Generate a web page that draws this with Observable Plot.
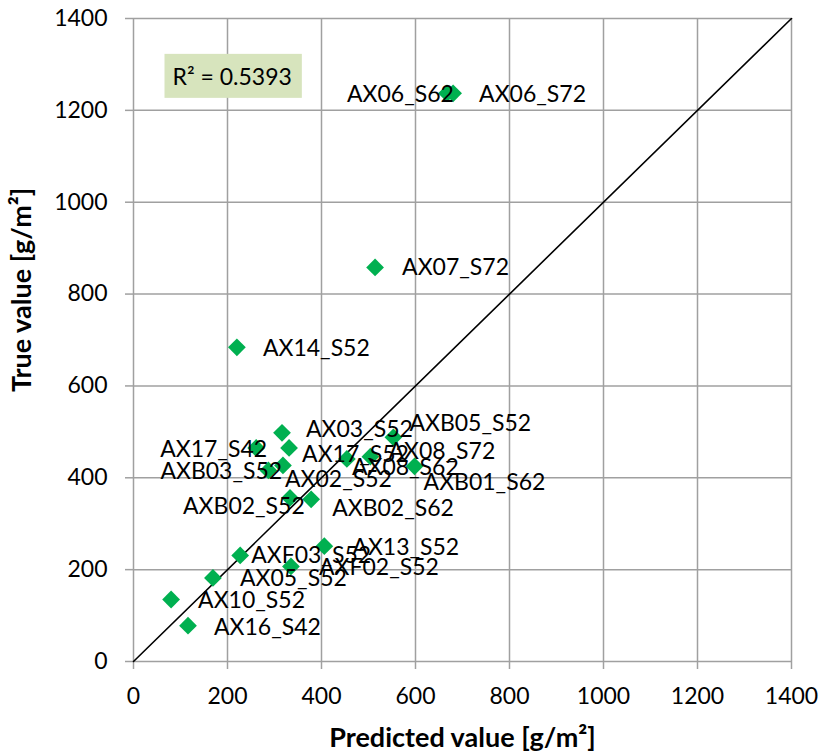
<!DOCTYPE html>
<html><head><meta charset="utf-8">
<script src="https://cdn.jsdelivr.net/npm/d3@7"></script>
<script src="https://cdn.jsdelivr.net/npm/@observablehq/plot@0.6"></script>
<style>body{margin:0;background:#fff;} svg{display:block;}</style>
</head><body><div id="chart"></div>
<script>
// ---- data ----
const labels = ["AX06_S62","AX06_S72","AX07_S72","AX14_S52","AX03_S52","AX17_S52","AX17_S42","AX02_S52","AXB03_S52","AXB02_S52","AXB02_S62","AX08_S62","AX08_S72","AXB05_S52","AXB01_S62","AX13_S52","AXF03_S52","AXF02_S52","AX05_S52","AX10_S52","AX16_S42"];
const predicted = [667, 680, 514, 220, 316, 331, 261, 318, 287, 333, 378, 454, 504, 553, 598, 406, 227, 335, 169, 80, 116];
const trueValues = [1237, 1237, 858, 684, 498, 465, 465, 427, 416, 356, 353, 441, 446, 488, 425, 251, 231, 207, 182, 135, 78];
const axisTicks = [0, 200, 400, 600, 800, 1000, 1200, 1400];
const r2Text = "R² = 0.5393";
const xTitle = "Predicted value [g/m²]";
const yTitle = "True value [g/m²]";

// ---- layout (label placement, px offsets from each point) ----
const labelOffsets = [[-100,1],[26,1],[27,0],[26,1],[24,-3],[13,7],[-96,2],[2,14],[-108,1],[-107,9],[21,9],[5,9],[18,-5],[16,-14],[9,16],[28,1],[11,0],[28,1],[27,1],[27,1],[26,2]];

const rows = labels.map((name, i) => ({name, predicted: predicted[i], actual: trueValues[i]}));
const domain = [axisTicks[0], axisTicks[axisTicks.length - 1]];
const gridColor = "#a0a0a0";
const font = "Lato, 'Open Sans', sans-serif";
const fmt = d3.format("d");

const chart = Plot.plot({
  width: 819, height: 753,
  marginLeft: 133, marginRight: 28, marginTop: 18, marginBottom: 92,
  style: {fontFamily: font, fontSize: "23px", color: "#000", background: "#fff", overflow: "visible"},
  x: {domain, ticks: axisTicks, label: null},
  y: {domain, ticks: axisTicks, label: null},
  marks: [
    Plot.gridX(axisTicks, {stroke: gridColor, strokeOpacity: 1, strokeWidth: 1.5}),
    Plot.gridY(axisTicks, {stroke: gridColor, strokeOpacity: 1, strokeWidth: 1.5}),
    Plot.axisX(axisTicks, {tickSize: 8, tickPadding: 18, tickFormat: fmt, stroke: gridColor, strokeWidth: 1.5, fill: "#000", fontSize: 23, label: null}),
    Plot.axisY(axisTicks, {tickSize: 8, tickPadding: 18, tickFormat: fmt, stroke: gridColor, strokeWidth: 1.5, fill: "#000", fontSize: 23, label: null}),
    Plot.line(domain.map(v => ({x: v, y: v})), {x: "x", y: "y", stroke: "#000", strokeWidth: 1.6}),
    Plot.dot(rows, {x: "predicted", y: "actual", symbol: "diamond2", r: 8, fill: "#00b050", stroke: "none"}),
    ...rows.map((d, i) => Plot.text([d], {x: "predicted", y: "actual", text: "name", dx: labelOffsets[i][0], dy: labelOffsets[i][1], textAnchor: "start", lineAnchor: "middle", fontSize: 23, fill: "#000"})),
    Plot.text([r2Text], {frameAnchor: "top-left", dx: 39, dy: 59, textAnchor: "start", lineAnchor: "middle", fontSize: 23, fill: "#000"}),
    Plot.text([xTitle], {frameAnchor: "bottom", dy: 77, lineAnchor: "middle", fontSize: 27, fontWeight: "bold", fill: "#000"}),
    Plot.text([yTitle], {frameAnchor: "left", rotate: -90, dx: -111, dy: 52, lineAnchor: "middle", fontSize: 27, fontWeight: "bold", fill: "#000"})
  ]
});
document.getElementById("chart").append(chart);

// background box behind R² annotation
const r2 = Array.from(chart.querySelectorAll("text")).find(t => t.textContent === r2Text);
if (r2) {
  const bb = r2.getBBox();
  const rect = document.createElementNS("http://www.w3.org/2000/svg", "rect");
  const cy = bb.y + bb.height / 2;
  rect.setAttribute("x", bb.x - 8);
  rect.setAttribute("y", cy - 22);
  rect.setAttribute("width", bb.width + 18);
  rect.setAttribute("height", 44);
  rect.setAttribute("fill", "#d7e4bd");
  if (r2.getAttribute("transform")) rect.setAttribute("transform", r2.getAttribute("transform"));
  r2.parentNode.insertBefore(rect, r2);
}
</script></body></html>
